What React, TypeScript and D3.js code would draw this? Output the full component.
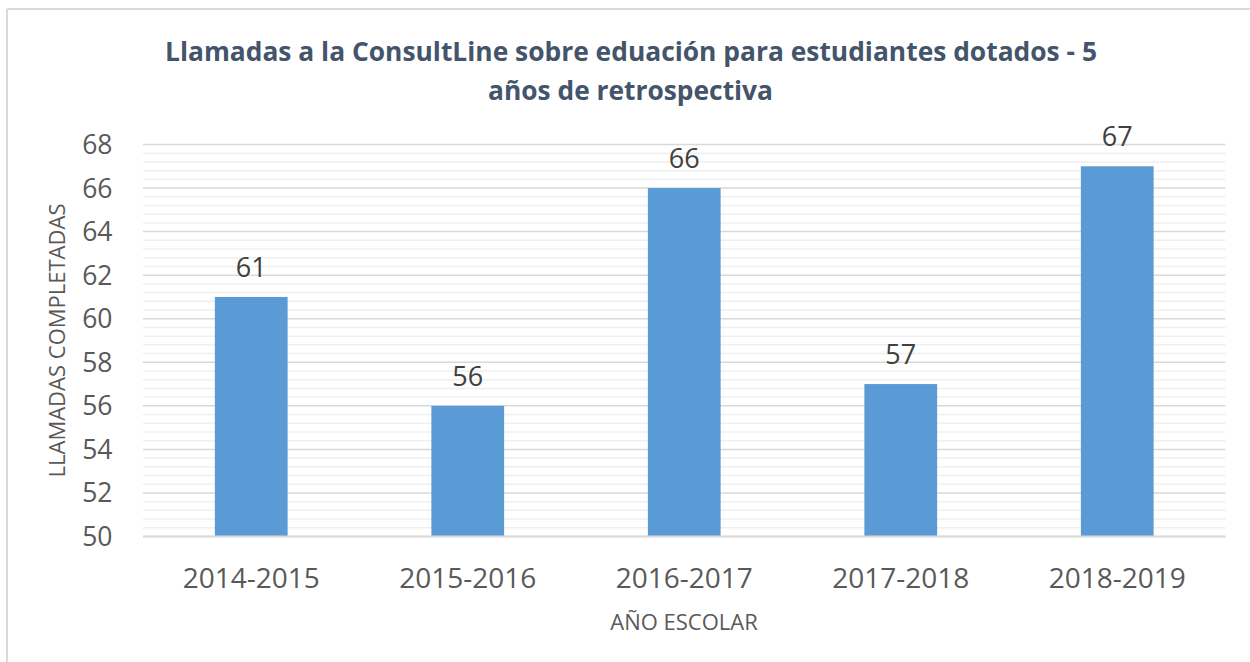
import React from "react";
import * as d3 from "d3";

const categories: string[] = ["2014-2015", "2015-2016", "2016-2017", "2017-2018", "2018-2019"];
const values: number[] = [61, 56, 66, 57, 67];
const yTicks: number[] = [50, 52, 54, 56, 58, 60, 62, 64, 66, 68];
const titleLines: string[] = [
  "Llamadas a la ConsultLine sobre eduación para estudiantes dotados - 5",
  "años de retrospectiva",
];
const yAxisTitle = "LLAMADAS COMPLETADAS";
const xAxisTitle = "AÑO ESCOLAR";

const W = 1250;
const H = 662;
const FONT = "'Open Sans', 'Noto Sans', sans-serif";

export default function App() {
  const left = 143;
  const right = 1225.5;
  const top = 144.5;
  const bottom = 536.5;

  const y = d3.scaleLinear().domain([50, 68]).range([bottom, top]);
  const pad = 0.664;
  const x = d3
    .scaleBand<string>()
    .domain(categories)
    .range([left, right])
    .paddingInner(pad)
    .paddingOuter(pad / 2);

  const minorTicks = d3.range(0, 46).map((i) => 50 + i * 0.4);

  return (
    <svg
      width={W}
      height={H}
      style={{ position: "absolute", left: 0, top: 0, background: "#fff" }}
    >
      <rect x={0} y={0} width={W} height={H} fill="#fff" />
      {/* chart border */}
      <line x1={7} x2={W} y1={9} y2={9} stroke="#d9d9d9" strokeWidth={2} />
      <line x1={7} x2={7} y1={9} y2={H} stroke="#d9d9d9" strokeWidth={2} />

      {/* title */}
      <text
        x={631}
        y={61}
        textAnchor="middle"
        fontFamily={FONT}
        fontWeight="bold"
        fontSize={27.5}
        fill="#44546A"
        textLength={932}
        lengthAdjust="spacingAndGlyphs"
      >
        {titleLines[0]}
      </text>
      <text
        x={630.5}
        y={100}
        textAnchor="middle"
        fontFamily={FONT}
        fontWeight="bold"
        fontSize={27.5}
        fill="#44546A"
        textLength={285}
        lengthAdjust="spacingAndGlyphs"
      >
        {titleLines[1]}
      </text>

      {/* minor gridlines */}
      {minorTicks.map((t, i) =>
        i % 5 === 0 ? null : (
          <line
            key={"m" + i}
            x1={left}
            x2={right}
            y1={y(t)}
            y2={y(t)}
            stroke="#efefef"
            strokeWidth={1.5}
          />
        )
      )}
      {/* major gridlines */}
      {yTicks.map((t) => (
        <line
          key={"g" + t}
          x1={left}
          x2={right}
          y1={y(t)}
          y2={y(t)}
          stroke="#d9d9d9"
          strokeWidth={1.5}
        />
      ))}

      {/* y tick labels */}
      {yTicks.map((t) => (
        <text
          key={"yt" + t}
          x={112.5}
          y={y(t) + 9.5}
          textAnchor="end"
          fontFamily={FONT}
          fontSize={26.5}
          fill="#595959"
        >
          {t}
        </text>
      ))}

      {/* bars */}
      {categories.map((c, i) => (
        <rect
          key={"b" + c}
          x={x(c)}
          y={y(values[i])}
          width={x.bandwidth()}
          height={bottom - y(values[i])}
          fill="#5B9BD5"
        />
      ))}

      {/* data labels */}
      {categories.map((c, i) => (
        <text
          key={"dl" + c}
          x={(x(c) as number) + x.bandwidth() / 2}
          y={y(values[i]) - 20}
          textAnchor="middle"
          fontFamily={FONT}
          fontSize={27}
          fill="#404040"
        >
          {values[i]}
        </text>
      ))}

      {/* x axis line */}
      <line x1={left} x2={right} y1={bottom} y2={bottom} stroke="#d9d9d9" strokeWidth={2} />

      {/* category labels */}
      {categories.map((c) => (
        <text
          key={"xl" + c}
          x={(x(c) as number) + x.bandwidth() / 2}
          y={588}
          textAnchor="middle"
          fontFamily={FONT}
          fontSize={28}
          fill="#595959"
        >
          {c}
        </text>
      ))}

      {/* axis titles */}
      <text
        x={684}
        y={630}
        textAnchor="middle"
        fontFamily={FONT}
        fontSize={22}
        fill="#595959"
      >
        {xAxisTitle}
      </text>
      <text
        transform={`translate(65, ${(top + bottom) / 2}) rotate(-90)`}
        textAnchor="middle"
        fontFamily={FONT}
        fontSize={22}
        fill="#595959"
      >
        {yAxisTitle}
      </text>
    </svg>
  );
}
